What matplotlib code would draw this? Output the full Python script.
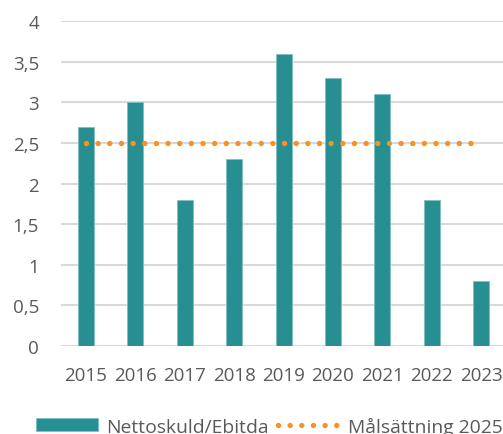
import matplotlib
matplotlib.use("Agg")
import matplotlib.pyplot as plt
import numpy as np

# data
years = ['2015', '2016', '2017', '2018', '2019', '2020', '2021', '2022', '2023']
nettoskuld_ebitda = [2.7, 3.0, 1.8, 2.3, 3.6, 3.3, 3.1, 1.8, 0.8]
malsattning = [2.5] * len(years)
yticks = [0, 0.5, 1, 1.5, 2, 2.5, 3, 3.5, 4]
ytick_labels = ['0', '0,5', '1', '1,5', '2', '2,5', '3', '3,5', '4']

plt.rcParams['font.family'] = ['Open Sans', 'DejaVu Sans']
grey = '#595959'
teal = '#278F91'
orange = '#F7931E'

fig = plt.figure(figsize=(5.03, 4.35), dpi=100)
ax = fig.add_axes([61.3 / 503, 88 / 435, 444.6 / 503, 325 / 435])

x = np.arange(len(years))
bars = ax.bar(x, nettoskuld_ebitda, width=0.32, color=teal, edgecolor='#7FBFC0',
              linewidth=0.6, label='Nettoskuld/Ebitda', zorder=3)
line, = ax.plot(x, malsattning, color=orange, lw=3.9, linestyle=(0, (0.001, 2.15)),
                dash_capstyle='round', label='Målsättning 2025', zorder=4)

ax.set_xlim(-0.5, len(years) - 0.5)
ax.set_ylim(0, 4)
ax.set_yticks(yticks)
ax.set_yticklabels(ytick_labels)
ax.set_xticks(x)
ax.set_xticklabels(years)
ax.grid(axis='y', color='#D9D9D9', lw=1.5, zorder=0)
for s in ax.spines.values():
    s.set_visible(False)
ax.tick_params(axis='both', length=0, labelsize=13.5, labelcolor=grey)
ax.tick_params(axis='y', pad=16)
ax.tick_params(axis='x', pad=14.5)

fig.legend(handles=[bars, line], loc='center left', bbox_to_anchor=(36 / 503, 8 / 435),
           ncol=2, frameon=False, fontsize=13.9, labelcolor=grey, borderpad=0,
           borderaxespad=0, handlelength=3.2, handleheight=0.62,
           handletextpad=0.42, columnspacing=0.5)

fig.savefig('out.png', dpi=100)
